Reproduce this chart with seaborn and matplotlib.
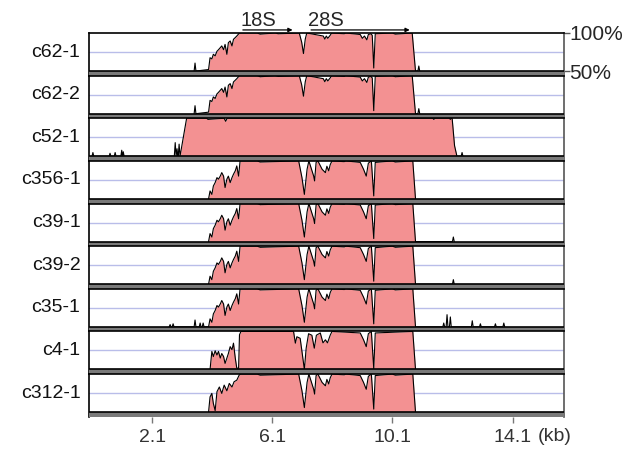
import numpy as np
import pandas as pd
import seaborn as sns
import matplotlib.pyplot as plt
import matplotlib.transforms as mtrans

tracks = ["c62-1", "c62-2", "c52-1", "c356-1", "c39-1", "c39-2", "c35-1", "c4-1", "c312-1"]
ticks_kb = [2.1, 6.1, 10.1, 14.1]

# coverage in % (each track spans 50..100 %), positions in kb
# ramp into 18S, c62 tracks
ramp_a_kb = [3.98, 4.03, 4.09, 4.14, 4.20, 4.26, 4.31, 4.37, 4.42, 4.48, 4.53, 4.59, 4.64, 4.70, 4.76, 4.81, 4.87, 4.92, 5.01]
ramp_a_pct = [52, 67.5, 66, 72, 70, 76, 78, 80.7, 83, 78, 85, 72, 87.3, 89.5, 83, 91.7, 94, 96, 100]
# ramp, c356 / c39 / c35 tracks
ramp_b_kb = [3.98, 4.03, 4.09, 4.14, 4.20, 4.26, 4.31, 4.37, 4.42, 4.48, 4.53, 4.59, 4.64, 4.70, 4.76, 4.81, 4.87, 4.92, 4.98, 5.03]
ramp_b_pct = [50, 60.5, 56, 67, 71.5, 78, 76, 80, 84.6, 80, 65, 76, 80, 71.5, 78, 82.5, 87, 93.4, 80, 100]
# ramp, c4-1
ramp_c4_kb = [4.03, 4.09, 4.14, 4.20, 4.26, 4.31, 4.37, 4.42, 4.48, 4.53, 4.59, 4.64, 4.70, 4.76, 4.81, 4.87, 4.92, 4.98, 5.01, 5.06]
ramp_c4_pct = [50, 73.7, 67, 74.6, 69, 73.7, 65, 71, 67, 58, 65, 71, 80, 76, 84.6, 65, 51.7, 51.7, 95.6, 100]
# ramp, c312-1
ramp_c312_kb = [3.98, 4.03, 4.09, 4.14, 4.20, 4.26, 4.34, 4.42, 4.50, 4.59, 4.67, 4.76, 4.83, 4.92, 5.00, 5.05]
ramp_c312_pct = [50, 70, 74.6, 61.4, 52, 76.8, 83, 74.6, 85.5, 78, 87.7, 83, 89.9, 92, 98.7, 100]

# 18S / 28S body, c62 tracks
body_a_kb = [5.6, 5.7, 6.2, 6.3, 7.00, 7.08, 7.14, 7.20, 7.25, 7.80, 7.85, 7.90, 7.95, 8.03, 8.08, 8.5, 8.55,
             9.03, 9.10, 9.17, 9.25, 9.30, 9.38, 9.43, 9.48, 9.53, 10.1, 10.2, 10.76, 10.87]
body_a_pct = [100, 98.5, 100, 99, 100, 88, 73, 92, 100, 96, 92, 96, 93, 97, 100, 99, 100,
              98, 93, 96, 91, 98, 99, 97, 54, 99, 100, 98.5, 100, 50]
# body, c356 / c39 / c35 / c312 tracks
body_b_kb = [5.6, 5.7, 6.98, 7.09, 7.17, 7.26, 7.32, 7.48, 7.51, 7.56, 7.62, 7.76, 7.87, 7.92, 7.98, 8.03, 8.09,
             8.5, 8.55, 9.03, 9.14, 9.23, 9.30, 9.40, 9.48, 9.53, 10.1, 10.2, 10.78, 10.87]
body_b_pct = [100, 98.5, 100, 78, 56, 89, 100, 80, 73.7, 98, 100, 89, 84.6, 93, 87, 95, 100,
              99, 100, 98, 89, 80, 97, 100, 54, 98, 100, 98.5, 100, 50]
# body, c4-1
body_c4_kb = [6.81, 6.87, 6.92, 7.03, 7.09, 7.17, 7.23, 7.31, 7.42, 7.50, 7.57, 7.70, 7.79, 7.87, 7.94, 8.03, 8.09,
              9.03, 9.14, 9.23, 9.30, 9.40, 9.48, 9.53, 10.78, 10.87]
body_c4_pct = [100, 84.6, 93, 91, 73.7, 50, 78, 97, 95, 78, 95, 98, 85, 89, 85, 95, 100,
               98, 89, 80, 97, 100, 51, 98, 100, 50]
# c52-1 covers a longer stretch
c52_kb = [3.03, 3.25, 3.92, 3.96, 4.5, 4.55, 4.6, 11.45, 11.48, 11.52, 12.0, 12.03, 12.06, 12.09, 12.17, 12.25]
c52_pct = [50, 100, 100, 98.5, 100, 96, 100, 100, 98.5, 100, 100, 98.5, 100, 100, 64, 50]

# isolated low-coverage spikes (kb, %)
noise_c62_kb = [3.53, 10.98]
noise_c62_pct = [60.5, 56.6]
noise_c52_kb = [0.13, 0.70, 0.87, 1.09, 1.14, 2.87, 2.93, 3.00, 12.42]
noise_c52_pct = [55, 54, 55, 58, 56, 68, 60, 66, 55]
noise_c39_kb = [12.13]
noise_c39_pct = [56]
noise_c35_kb = [2.70, 2.80, 3.53, 3.70, 3.80, 11.81, 11.92, 12.03, 12.76, 13.03, 13.53, 13.81]
noise_c35_pct = [53, 54, 59, 55, 55, 55, 66, 63, 58, 54, 54, 55]

profiles = {
    "c62-1": (ramp_a_kb + body_a_kb, ramp_a_pct + body_a_pct, noise_c62_kb, noise_c62_pct),
    "c62-2": (ramp_a_kb + body_a_kb, ramp_a_pct + body_a_pct, noise_c62_kb, noise_c62_pct),
    "c52-1": (c52_kb, c52_pct, noise_c52_kb, noise_c52_pct),
    "c356-1": (ramp_b_kb + body_b_kb, ramp_b_pct + body_b_pct, [], []),
    "c39-1": (ramp_b_kb + body_b_kb, ramp_b_pct + body_b_pct, noise_c39_kb, noise_c39_pct),
    "c39-2": (ramp_b_kb + body_b_kb, ramp_b_pct + body_b_pct, noise_c39_kb, noise_c39_pct),
    "c35-1": (ramp_b_kb + body_b_kb, ramp_b_pct + body_b_pct, noise_c35_kb, noise_c35_pct),
    "c4-1": (ramp_c4_kb + body_c4_kb, ramp_c4_pct + body_c4_pct, [], []),
    "c312-1": (ramp_c312_kb + body_b_kb, ramp_c312_pct + body_b_pct, [], []),
}

sns.set_style("white")
plt.rcParams["font.family"] = ["Liberation Sans", "DejaVu Sans"]

PINK = "#f39192"
BAR = 44.0
FS = 14

fig = plt.figure(figsize=(6.29, 4.55), dpi=100)
gs = fig.add_gridspec(len(tracks), 1, left=0.1415, right=0.896, top=0.9275, bottom=0.0842, hspace=0)
axes = [fig.add_subplot(gs[i]) for i in range(len(tracks))]

for i, (ax, name) in enumerate(zip(axes, tracks)):
    kb, pct, nkb, npct = profiles[name]
    # spikes drawn as thin peaks on the baseline
    sx, sy = [], []
    for x, v in zip(nkb, npct):
        sx += [x - 0.03, x, x + 0.03]
        sy += [50, v, 50]
    line = pd.DataFrame({"kb": sx + list(kb), "pct": sy + list(pct)}).sort_values("kb")
    ax.axhline(75, color="#b9bde9", lw=1, zorder=0)
    ax.fill_between(kb, 50, pct, color=PINK, lw=0, zorder=1)
    sns.lineplot(data=line, x="kb", y="pct", ax=ax, color="black", lw=0.8,
                 estimator=None, sort=False, zorder=2)
    ax.axhspan(BAR, 50, color="#7a7a7a", lw=0, zorder=3)
    ax.axhline(50, color="black", lw=1.2, zorder=4)
    ax.set_xlim(0, 15.8)
    ax.set_ylim(BAR, 100)
    ax.set_xlabel("")
    ax.set_ylabel("")
    for s in ["top", "left"]:
        ax.spines[s].set_color("black")
        ax.spines[s].set_linewidth(1.2)
    ax.spines["right"].set_color("#555555")
    ax.spines["right"].set_linewidth(1.2)
    ax.spines["bottom"].set_visible(False)
    tr = mtrans.blended_transform_factory(ax.transAxes, ax.transData)
    ax.text(-0.018, 75, name, transform=tr, ha="right", va="center", fontsize=FS, color="#111111")
    ax.set_yticks([])
    if i < len(tracks) - 1:
        ax.set_xticks([])

# right-hand % scale on the first track
top = axes[0]
top.yaxis.tick_right()
top.set_yticks([100, 50])
top.set_yticklabels(["100%", "50%"], fontsize=15)
top.tick_params(axis="y", right=True, length=4, width=1, color="#555555", pad=0)

# rRNA annotations
for label, start, end in [("18S", 5.03, 6.87), ("28S", 7.30, 10.77)]:
    top.annotate("", xy=(end, 104), xytext=(start, 104),
                 arrowprops=dict(arrowstyle="-|>", color="black", lw=0.9, mutation_scale=6),
                 annotation_clip=False)
    top.text(start, 104.5, label, ha="left", va="bottom", fontsize=14.5)

bottom = axes[-1]
bottom.set_xticks(ticks_kb)
bottom.set_xticklabels([str(t) for t in ticks_kb], fontsize=FS, color="#333333")
bottom.tick_params(axis="x", bottom=True, length=4, width=1, color="#777777", pad=5)
bottom.text(14.93, -0.46, "(kb)", transform=mtrans.blended_transform_factory(bottom.transData, bottom.transAxes),
            ha="left", va="center", fontsize=FS, color="#333333")

plt.savefig("out.png", dpi=100)
